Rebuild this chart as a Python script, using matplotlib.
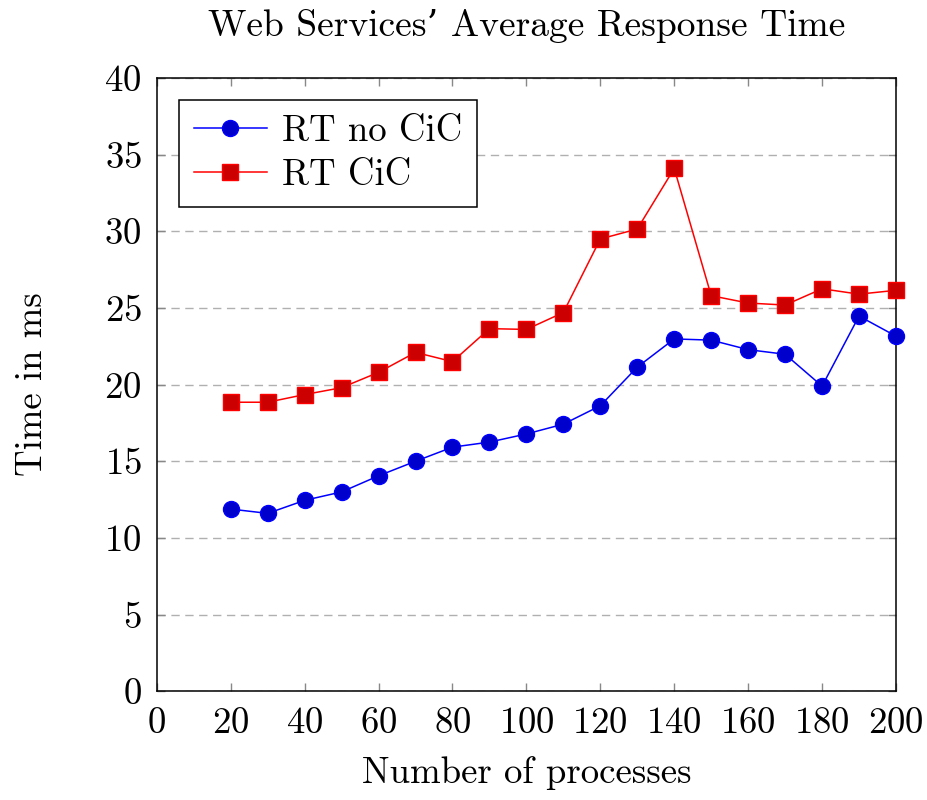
import matplotlib.pyplot as plt

plt.rcParams['font.family'] = ['cmr10', 'DejaVu Serif']
plt.rcParams['mathtext.fontset'] = 'cm'
plt.rcParams['axes.formatter.use_mathtext'] = True

processes = [20, 30, 40, 50, 60, 70, 80, 90, 100, 110, 120, 130, 140, 150, 160, 170, 180, 190, 200]
rt_no_cic = [11.88, 11.6, 12.45, 13.0, 14.05, 15.0, 15.92, 16.25, 16.78, 17.42, 18.62, 21.14, 22.98, 22.9, 22.28, 21.98, 19.9, 24.47, 23.16]
rt_cic = [18.85, 18.85, 19.35, 19.8, 20.8, 22.1, 21.5, 23.65, 23.6, 24.7, 29.5, 30.15, 34.1, 25.8, 25.32, 25.19, 26.25, 25.9, 26.15]

x_ticks = list(range(0, 201, 20))
y_ticks = list(range(0, 41, 5))

fig = plt.figure(figsize=(9.28, 8), dpi=100)
ax = fig.add_axes([0.169, 0.136, 0.7965, 0.7665])

ax.plot(processes, rt_no_cic, color='blue', lw=1.1, marker='o', markersize=11.5,
        markerfacecolor='#0000cc', markeredgecolor='blue', label='RT no CiC', zorder=3, clip_on=False)
ax.plot(processes, rt_cic, color='red', lw=1.1, marker='s', markersize=11,
        markerfacecolor='#cc0000', markeredgecolor='red', label='RT CiC', zorder=3, clip_on=False)

ax.set_xlim(0, 200)
ax.set_ylim(0, 40)
ax.set_xticks(x_ticks)
ax.set_yticks(y_ticks)
ax.yaxis.grid(True, linestyle=(0, (6, 4)), color='#b0b0b0', lw=1)
ax.set_axisbelow(True)
ax.tick_params(direction='in', length=6, width=1, color='#888888', top=True, right=True,
               labelsize=26.5, pad=11)
for s in ax.spines.values():
    s.set_linewidth(1.1)

ax.set_title('Web Services\u2019 Average Response Time', fontsize=27, pad=30)
ax.set_xlabel('Number of processes', fontsize=26.5, labelpad=12)
ax.set_ylabel('Time in ms', fontsize=26.5, labelpad=40)

leg = ax.legend(loc='upper left', fontsize=26.5, fancybox=False, edgecolor='black',
                framealpha=1, borderaxespad=0.6, handlelength=2.0, borderpad=0.4,
                labelspacing=0.3, handletextpad=0.4)
leg.get_frame().set_linewidth(1.1)

fig.savefig('out.png', dpi=100)
